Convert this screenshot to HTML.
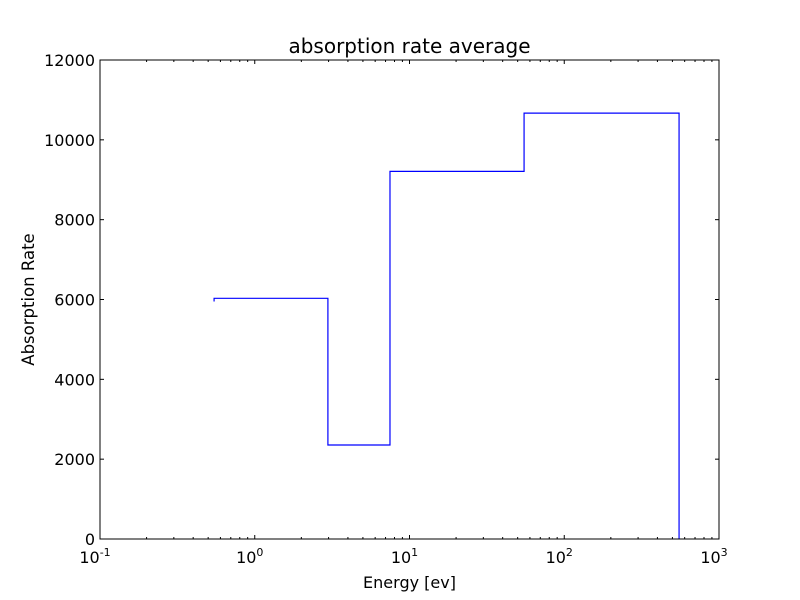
<!DOCTYPE html>
<html><head><meta charset="utf-8"><style>
body{margin:0;background:#fff;}
svg{display:block;font-family:"DejaVu Sans","Liberation Sans",sans-serif;}
</style></head><body>
<svg id="chart" width="800" height="600">
<rect width="800" height="600" fill="#fff"/>
<text x="409.5" y="53" font-size="20" text-anchor="middle">absorption rate average</text>
<text x="409.5" y="588" font-size="16" text-anchor="middle">Energy [ev]</text>
<text transform="translate(34,299.5) rotate(-90)" font-size="16.5" text-anchor="middle">Absorption Rate</text>
<g id="ticks"></g>
<path id="series" fill="none" stroke="#0000ff" stroke-width="1.2"/>
<rect x="100" y="60" width="619" height="479" fill="none" stroke="#000" stroke-width="1"/>
</svg>
<script>
const edges=[0.546,2.97,7.48,55,552];
const values=[6030,2355,9210,10670];
const startValue=5950;
const endValue=0;
const yTicks=[0,2000,4000,6000,8000,10000,12000];
const xExponents=[-1,0,1,2,3];
const L=100,R=719,T=60,B=539;
const xs=v=>L+(Math.log10(v)+1)/4*(R-L);
const ys=v=>B-v/12000*(B-T);
let d=`M${xs(edges[0])},${ys(startValue)}`;
for(let i=0;i<values.length;i++){d+=` L${xs(edges[i])},${ys(values[i])} L${xs(edges[i+1])},${ys(values[i])}`;}
d+=` L${xs(edges[edges.length-1])},${ys(endValue)}`;
document.getElementById('series').setAttribute('d',d);
const g=document.getElementById('ticks');
const NS='http://www.w3.org/2000/svg';
function line(x1,y1,x2,y2){const l=document.createElementNS(NS,'line');l.setAttribute('x1',x1);l.setAttribute('y1',y1);l.setAttribute('x2',x2);l.setAttribute('y2',y2);l.setAttribute('stroke','#000');


g.appendChild(l);}
yTicks.forEach(v=>{const y=ys(v);line(L,y,L+4,y);line(R,y,R-4,y);
const t=document.createElementNS(NS,'text');t.setAttribute('x',L-5);t.setAttribute('y',y+6);t.setAttribute('font-size','16');t.setAttribute('text-anchor','end');t.textContent=v;


g.appendChild(t);});
xExponents.forEach(e=>{const x=xs(Math.pow(10,e));line(x,B,x,B-4);line(x,T,x,T+4);
const t=document.createElementNS(NS,'text');t.setAttribute('x',x-5);t.setAttribute('y',B+24);t.setAttribute('font-size','16');t.setAttribute('text-anchor','middle');


t.innerHTML='10<tspan dy="-7" font-size="11">'+e+'</tspan>';g.appendChild(t);
if(e<3){for(let m=2;m<10;m++){const xm=xs(m*Math.pow(10,e));line(xm,B,xm,B-2);line(xm,T,xm,T+2);}}});
</script>
</body></html>
